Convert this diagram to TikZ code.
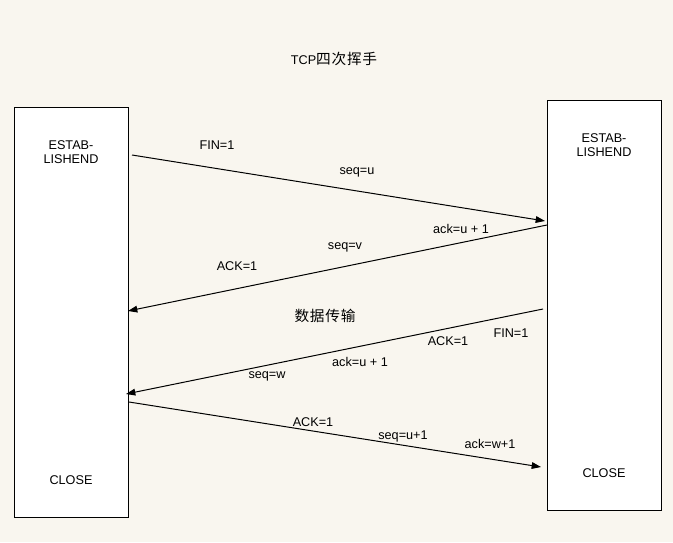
\documentclass[tikz,border=0pt]{standalone}
\usepackage{fontspec}
\setmainfont{Liberation Sans}
\newfontfamily\cjkfont[LetterSpace=5]{Noto Sans CJK SC}
\usetikzlibrary{calc, positioning, arrows.meta}

\definecolor{bgpaper}{HTML}{F9F6EF}

\tikzset{
  hostbox/.style={draw, fill=white, line width=0.75pt, inner sep=0pt,
    minimum width=85.5pt, minimum height=307.5pt},
  lbl/.style={inner sep=0pt, font=\fontsize{9.5}{11}\selectfont},
  cjk/.style={inner sep=0pt, font=\fontsize{11}{13}\cjkfont},
  msg/.style={line width=0.75pt, -{Triangle[length=7pt, width=5pt]}}
}

\begin{document}
\begin{tikzpicture}[x=0.75pt, y=-0.75pt]
% Background
\fill[bgpaper] (0,0) rectangle (673,542);
\useasboundingbox (0,0) rectangle (673,542);

% Title
\node[lbl] (title) at (334,59) {TCP{\fontsize{11}{13}\cjkfont 四次挥手}};

% Two hosts
\node[hostbox] (lbox) at (71,312) {};
\node[hostbox] (rbox) at (604,305) {};

\node[lbl, align=center] (lstate) at (71,152) {ESTAB-\\LISHEND};
\node[lbl, align=center] (rstate) at (604,145) {ESTAB-\\LISHEND};
\node[lbl] (lclose) at (71,480) {CLOSE};
\node[lbl] (rclose) at (604,473) {CLOSE};

% End points of the segments
\coordinate (m1s) at (132,155);
\coordinate (m1e) at (545,221);
\coordinate (m2s) at (547,225);
\coordinate (m2e) at (128,311);
\coordinate (m3s) at (543,309);
\coordinate (m3e) at (126,394);
\coordinate (m4s) at (129,402);
\coordinate (m4e) at (541,467);

% First FIN
\draw[msg] (m1s) -- (m1e);
\node[lbl] (fin1) at (217,145) {FIN=1};
\node[lbl] (sequ) at (357,172) {seq=u};

% ACK from server
\draw[msg] (m2s) -- (m2e);
\node[lbl] (acku1) at (461,229) {ack=u + 1};
\node[lbl] (seqv) at (345,247) {seq=v};
\node[lbl] (ackf1) at (237,266) {ACK=1};

\node[cjk] (data) at (325,316) {数据传输};

% Second FIN
\draw[msg] (m3s) -- (m3e);
\node[lbl] (fin2) at (511,333) {FIN=1};
\node[lbl] (ackf2) at (448,341) {ACK=1};
\node[lbl] (acku2) at (360,362) {ack=u + 1};
\node[lbl] (seqw) at (267,376) {seq=w};

% Last ACK
\draw[msg] (m4s) -- (m4e);
\node[lbl] (ackf3) at (313,422) {ACK=1};
\node[lbl] (sequ1) at (403,436) {seq=u+1};
\node[lbl] (ackw1) at (490,444) {ack=w+1};
\end{tikzpicture}
\end{document}
